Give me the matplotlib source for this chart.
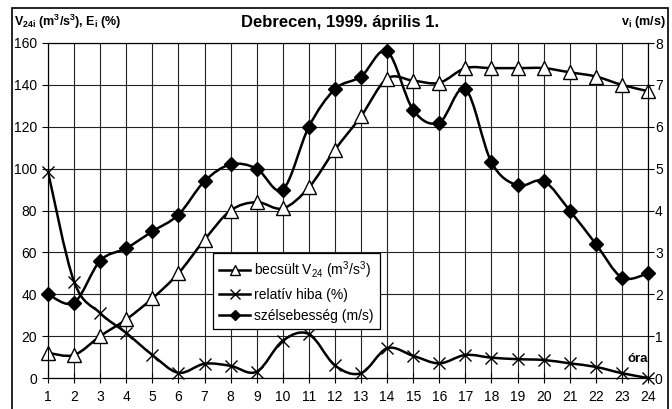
import numpy as np
import matplotlib
matplotlib.use('Agg')
from matplotlib import pyplot as plt
from matplotlib.path import Path
from matplotlib.patches import PathPatch, Rectangle
from matplotlib.lines import Line2D

plt.rcParams['font.family'] = ['Liberation Sans', 'DejaVu Sans']
plt.rcParams['mathtext.default'] = 'regular'

# adatok
hours = list(range(1, 25))
v24 = [12, 11, 20, 28, 38, 50, 66, 80, 84, 81, 91, 109, 125, 143, 142, 141,
       148, 148, 148, 148, 146, 144, 140, 137]
rel_err = [98.5, 46, 31, 21.5, 11, 2.5, 6.8, 5.8, 3, 17.8, 21, 6, 2.3, 14.2,
           10.6, 7, 11, 9.7, 9, 8.6, 7, 5.3, 2.3, 0]
wind = [2.0, 1.8, 2.8, 3.1, 3.5, 3.9, 4.7, 5.1, 5.0, 4.5, 6.0, 6.9, 7.2, 7.8,
        6.4, 6.1, 6.9, 5.15, 4.6, 4.7, 4.0, 3.2, 2.4, 2.5]
xticks = hours
yticks_left = [0, 20, 40, 60, 80, 100, 120, 140, 160]
yticks_right = [0, 1, 2, 3, 4, 5, 6, 7, 8]


def smooth_path(x, y):
    # Excel-style smoothed line: cubic Bezier segments (Catmull-Rom)
    p = np.column_stack([x, y]).astype(float)
    n = len(p)
    verts = [p[0]]
    codes = [Path.MOVETO]
    for i in range(n - 1):
        p0 = p[i - 1] if i > 0 else p[i]
        p3 = p[i + 2] if i + 2 < n else p[i + 1]
        c1 = p[i] + (p[i + 1] - p0) / 6.0
        c2 = p[i + 1] - (p3 - p[i]) / 6.0
        verts += [c1, c2, p[i + 1]]
        codes += [Path.CURVE4] * 3
    return Path(verts, codes)


fig = plt.figure(figsize=(6.72, 4.09), dpi=100)
ax = fig.add_axes([48/672, 31/409, 600/672, 335/409])
ax2 = ax.twinx()

ax.set_xlim(1, 24)
ax.set_ylim(0, 160)
ax2.set_ylim(0, 8)
ax.set_xticks(xticks)
ax.set_yticks(yticks_left)
ax2.set_yticks(yticks_right)
ax.grid(True, color='#222222', linewidth=0.8)
ax.tick_params(labelsize=10, length=4, width=0.8, direction='out', pad=4)
ax2.tick_params(labelsize=10, length=4, width=0.8, direction='out', pad=1)
ax.tick_params(axis='x', direction='inout', length=7, pad=5)
for a in (ax, ax2):
    for s in a.spines.values():
        s.set_linewidth(0.8)

lw = 1.8
ax.add_patch(PathPatch(smooth_path(hours, v24), fill=False, lw=lw, ec='black', zorder=3))
ax.plot(hours, v24, ls='none', marker='^', ms=10, mfc='white', mec='black',
        mew=1.0, clip_on=False, zorder=4)
ax.add_patch(PathPatch(smooth_path(hours, rel_err), fill=False, lw=lw, ec='black', zorder=3))
ax.plot(hours, rel_err, ls='none', marker='x', ms=9, mec='black', mew=1.0,
        clip_on=False, zorder=4)
ax2.add_patch(PathPatch(smooth_path(hours, wind), fill=False, lw=lw, ec='black', zorder=3))
ax2.plot(hours, wind, ls='none', marker='D', ms=7.5, mfc='black', mec='black',
         clip_on=False, zorder=4)

handles = [
    Line2D([], [], color='black', lw=lw, marker='^', ms=7, mfc='white', mec='black'),
    Line2D([], [], color='black', lw=lw, marker='x', ms=7, mew=1.0),
    Line2D([], [], color='black', lw=lw, marker='D', ms=5.5),
]
labels = ['becsült V$_{24}$ (m$^3$/s$^3$)', 'relatív hiba (%)', 'szélsebesség (m/s)']
leg = ax2.legend(handles, labels, loc='upper left', bbox_to_anchor=(0.275, 0.372),
                 fontsize=10, frameon=True, fancybox=False, shadow=False,
                 edgecolor='black', framealpha=1, borderpad=0.45, labelspacing=0.5,
                 handlelength=2.2, handletextpad=0.3, borderaxespad=0)
leg.get_frame().set_linewidth(0.9)

fig.text(340/672, 1 - 23/409, 'Debrecen, 1999. április 1.', ha='center', va='center',
         fontsize=12, fontweight='bold')
fig.text(14/672, 1 - 22/409, 'V$_{24i}$ (m$^3$/s$^3$), E$_i$ (%)', ha='left', va='center',
         fontsize=9, fontweight='bold')
fig.text(666/672, 1 - 22/409, 'v$_i$ (m/s)', ha='right', va='center',
         fontsize=9, fontweight='bold')
ax.text(23.6, 6, 'óra', ha='center', va='bottom', fontsize=9.5, fontweight='bold')

fig.patches.append(Rectangle((12/672, -0.05), 656/672, 1.05 - 8/409, transform=fig.transFigure,
                             fill=False, ec='black', lw=1.2))

fig.savefig('out.png', dpi=100)
